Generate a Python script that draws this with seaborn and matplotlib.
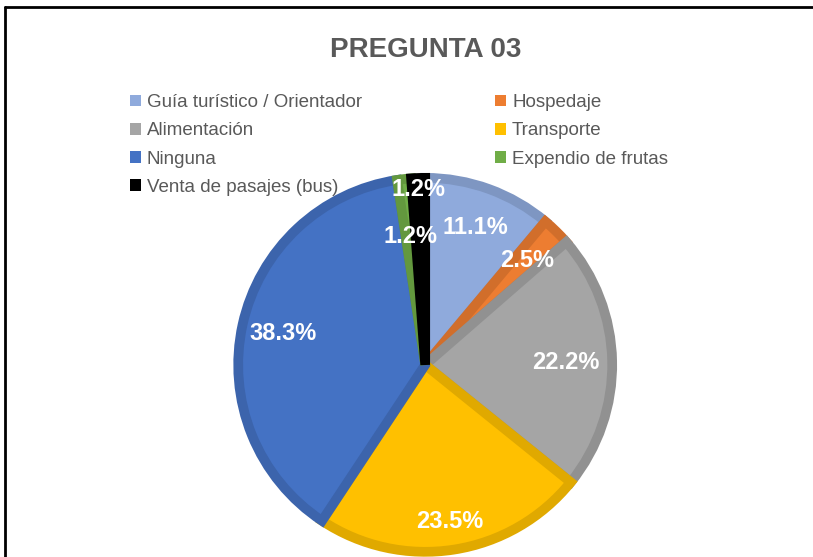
import numpy as np
import matplotlib.pyplot as plt
import matplotlib.colors as mcolors
from matplotlib.lines import Line2D
from matplotlib.patches import Patch
import seaborn as sns

sns.set_theme(style="white")
plt.rcParams['font.family'] = ['Liberation Sans', 'DejaVu Sans']

categories = ["Guía turístico / Orientador", "Hospedaje", "Alimentación", "Transporte",
              "Ninguna", "Expendio de frutas", "Venta de pasajes (bus)"]
percentages = [11.1, 2.5, 22.2, 23.5, 38.3, 1.2, 1.2]
colors = ["#8FAADC", "#ED7D31", "#A5A5A5", "#FFC000", "#4472C4", "#70AD47", "#000000"]
label_dist = [0.78, 0.78, 0.75, 0.85, 0.78, 0.69, 0.94]

def darker(c, f=0.88):
    r, g, b = mcolors.to_rgb(c)
    return (r * f, g * f, b * f)

fig = plt.figure(figsize=(8.13, 5.57), dpi=100)
ax = fig.add_axes([0.523 - 0.23, 0.345 - 0.3366, 0.46, 0.6732])

wedges, _ = ax.pie(percentages, colors=colors, startangle=90, counterclock=False,
                   wedgeprops=dict(linewidth=0))
ax.set_xlim(-1, 1)
ax.set_ylim(-1, 1)
ax.set_aspect('equal')

# inset border in a darker shade, like the original chart
for w, c in zip(wedges, colors):
    w.set_edgecolor(darker(c) if c != "#000000" else "#000000")
    w.set_linewidth(7)
    w.set_clip_path(w)

for w, p, d in zip(wedges, percentages, label_dist):
    ang = np.deg2rad((w.theta1 + w.theta2) / 2)
    ax.text(d * np.cos(ang), d * np.sin(ang), f"{p}%", ha='center', va='center',
            color='white', fontsize=17, fontweight='bold')

order = [0, 2, 4, 6, 1, 3, 5]
handles = [Patch(facecolor=colors[i], edgecolor='none') for i in order]
labels = [categories[i] for i in order]
fig.legend(handles, labels, loc='upper left', bbox_to_anchor=(0.16, 0.831), ncol=2,
           frameon=False, fontsize=13.5, labelcolor='#595959', handlelength=0.6,
           handleheight=0.6, handletextpad=0.3, columnspacing=7.1, labelspacing=0.6,
           borderaxespad=0, borderpad=0)

fig.text(0.523, 0.91, "PREGUNTA 03", ha='center', va='center', fontsize=20,
         fontweight='bold', color='#595959')

# chart frame (top and left edges visible)
fig.add_artist(Line2D([0.0065, 1], [0.987, 0.987], color='black', linewidth=2, transform=fig.transFigure))
fig.add_artist(Line2D([0.0065, 0.0065], [0, 0.987], color='black', linewidth=2, transform=fig.transFigure))

fig.savefig("out.png", dpi=100, facecolor='white')
